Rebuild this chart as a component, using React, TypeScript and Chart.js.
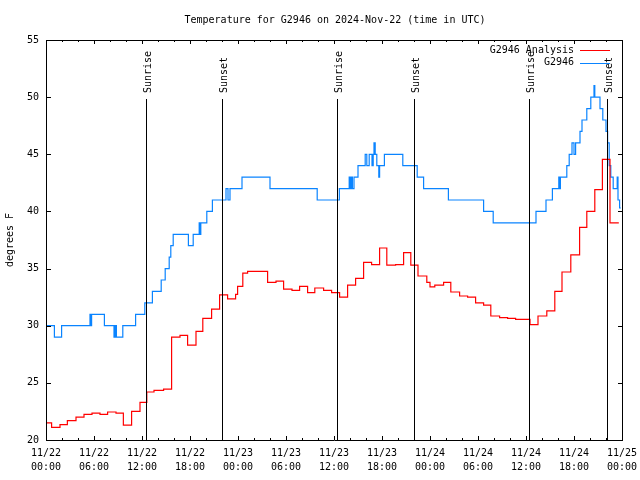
import { useEffect, useRef } from 'react';
import { Chart, registerables } from 'chart.js';

Chart.register(...registerables);

// ---- data (hours since 2024-11-22 00:00 UTC, degrees F) ----
const analysisHours = [
  0, 0.7, 1.75, 2.67, 3.75, 4.75, 5.75, 6.75, 7.7, 8.75, 9.67, 10.7, 11.75, 12.6, 13.5, 14.7,
  15.7, 16.75, 17.7, 18.75, 19.6, 20.7, 21.7, 22.7, 23.7, 23.95, 24.6, 25.2, 27.7, 28.75, 29.7,
  30.75, 31.7, 32.7, 33.6, 34.7, 35.7, 36.7, 37.7, 38.7, 39.7, 40.7, 41.7, 42.6, 43.7, 44.7,
  45.6, 46.5, 47.6, 48.0, 48.6, 49.7, 50.6, 51.7, 52.7, 53.7, 54.7, 55.6, 56.7, 57.7, 58.7,
  60.5, 61.5, 62.6, 63.6, 64.5, 65.6, 66.7, 67.6, 68.6, 69.55, 70.5, 71.6,
];
const analysisTemps = [
  21.5, 21.1, 21.35, 21.7, 22.0, 22.25, 22.35, 22.25, 22.45, 22.35, 21.3, 22.5, 23.3, 24.2, 24.35, 24.45,
  29.0, 29.15, 28.3, 29.5, 30.65, 31.45, 32.7, 32.35, 32.75, 33.45, 34.6, 34.75, 33.8, 33.9, 33.2,
  33.1, 33.45, 32.9, 33.3, 33.1, 32.9, 32.5, 33.55, 34.15, 35.55, 35.35, 36.8, 35.3, 35.35, 36.4,
  35.3, 34.35, 33.8, 33.4, 33.55, 33.8, 32.95, 32.6, 32.5, 32.0, 31.8, 30.85, 30.7, 30.65, 30.55,
  30.1, 30.85, 31.3, 33.0, 34.7, 36.2, 38.6, 40.0, 41.9, 44.55, 39.0, 39.0,
];

const obsHours = [
  0, 1.05, 1.95, 5.5, 5.6, 5.7, 7.3, 8.5, 8.65, 8.8, 9.6, 11.2, 12.35, 13.3, 14.4, 14.9, 15.4,
  15.6, 15.9, 17.8, 18.4, 19.15, 19.25, 19.35, 20.1, 20.8, 22.5, 22.75, 23.0, 24.5, 28.0, 33.9,
  36.67, 37.9, 38.05, 38.15, 38.3, 38.5, 39.0, 39.9, 40.1, 40.4, 40.75, 40.9, 41.0, 41.15, 41.35,
  41.6, 41.7, 42.3, 44.6, 46.4, 47.2, 50.3, 54.7, 55.9, 61.25, 62.5, 63.3, 64.1, 64.2, 64.3, 65.1,
  65.4, 65.75, 66.0, 66.2, 66.75, 67.0, 67.6, 68.1, 68.5, 68.6, 69.25, 69.6, 70.0, 70.2, 70.4,
  70.6, 70.9, 71.4, 71.5, 71.7, 71.85,
];
const obsTemps = [
  30, 29, 30, 31, 30, 31, 30, 29, 30, 29, 30, 31, 32, 33, 34, 35, 36,
  37, 38, 37, 38, 39, 38, 39, 40, 41, 42, 41, 42, 43, 42, 41,
  42, 43, 42, 43, 42, 43, 44, 45, 44, 45, 44, 45, 46, 45, 44,
  43, 44, 45, 44, 43, 42, 41, 40, 39, 40, 41, 42, 43, 42, 43, 44,
  45, 46, 45, 46, 47, 48, 49, 50, 51, 50, 49, 48, 47, 46, 44,
  43, 42, 43, 41, 40.3, 40.3,
];

const xTickDates = ['11/22', '11/22', '11/22', '11/22', '11/23', '11/23', '11/23', '11/23', '11/24', '11/24', '11/24', '11/24', '11/25'];
const xTickTimes = ['00:00', '06:00', '12:00', '18:00', '00:00', '06:00', '12:00', '18:00', '00:00', '06:00', '12:00', '18:00', '00:00'];
const yTickValues = [20, 25, 30, 35, 40, 45, 50, 55];

const sunEventLabels = ['Sunrise', 'Sunset', 'Sunrise', 'Sunset', 'Sunrise', 'Sunset'];
const sunEventHours = [12.53, 22.03, 36.43, 46.04, 60.42, 70.08];
const sunLineTopValue = 49.85;

const titleText = 'Temperature for G2946 on 2024-Nov-22 (time in UTC)';
const yAxisTitle = 'degrees F';
const seriesNames = ['G2946 Analysis', 'G2946'];
const seriesColors = ['#ff0000', '#0a84ff'];

const FONT = "'DejaVu Sans Mono', monospace";

const decorPlugin = {
  id: 'gnuplotDecor',
  afterDraw(chart: any) {
    const ctx = chart.ctx as CanvasRenderingContext2D;
    const { left, right, top, bottom } = chart.chartArea;
    const xs = chart.scales.x;
    const ys = chart.scales.y;
    ctx.save();
    ctx.strokeStyle = '#000';
    ctx.lineWidth = 1;

    // sunrise / sunset markers
    ctx.font = `10px ${FONT}`;
    ctx.fillStyle = '#000';
    sunEventHours.forEach((h, i) => {
      const px = Math.round(xs.getPixelForValue(h)) + 0.5;
      const pyTop = Math.round(ys.getPixelForValue(sunLineTopValue));
      ctx.beginPath();
      ctx.moveTo(px, pyTop);
      ctx.lineTo(px, bottom);
      ctx.stroke();
      ctx.save();
      ctx.translate(px + 1.5, pyTop - 6);
      ctx.rotate(-Math.PI / 2);
      ctx.textAlign = 'left';
      ctx.textBaseline = 'middle';
      ctx.fillText(sunEventLabels[i], 0, 0);
      ctx.restore();
    });

    // frame
    ctx.beginPath();
    ctx.rect(left + 0.5, top + 0.5, right - left, bottom - top);
    ctx.stroke();

    // y ticks (both sides)
    yTickValues.forEach((v) => {
      const py = Math.round(ys.getPixelForValue(v)) + 0.5;
      ctx.beginPath();
      ctx.moveTo(left, py);
      ctx.lineTo(left + 5, py);
      ctx.moveTo(right + 1, py);
      ctx.lineTo(right - 4, py);
      ctx.stroke();
    });

    // x ticks (major every 6h, minor every 2h, both sides)
    for (let h = 0; h <= 72; h += 2) {
      const px = Math.round(xs.getPixelForValue(h)) + 0.5;
      const len = h % 6 === 0 ? 4 : 2;
      ctx.beginPath();
      ctx.moveTo(px, bottom);
      ctx.lineTo(px, bottom - len);
      ctx.moveTo(px, top);
      ctx.lineTo(px, top + len);
      ctx.stroke();
    }

    // title
    ctx.font = `10px ${FONT}`;
    ctx.fillStyle = '#000';
    ctx.textAlign = 'center';
    ctx.textBaseline = 'middle';
    ctx.fillText(titleText, (left + right) / 2 + 1, 20);

    // y axis title
    ctx.save();
    ctx.translate(10, 240);
    ctx.rotate(-Math.PI / 2);
    ctx.textAlign = 'center';
    ctx.textBaseline = 'middle';
    ctx.fillText(yAxisTitle, 0, 0);
    ctx.restore();

    // legend
    seriesNames.forEach((name, i) => {
      const ly = 50 + i * 12.5;
      ctx.fillStyle = '#000';
      ctx.textAlign = 'right';
      ctx.textBaseline = 'middle';
      ctx.fillText(name, 574, ly);
      ctx.strokeStyle = seriesColors[i];
      ctx.beginPath();
      ctx.moveTo(580, Math.round(ly) + 0.5);
      ctx.lineTo(610, Math.round(ly) + 0.5);
      ctx.stroke();
    });

    ctx.restore();
  },
};

export default function App() {
  const canvasRef = useRef<HTMLCanvasElement | null>(null);

  useEffect(() => {
    if (!canvasRef.current) return;
    const chart = new Chart(canvasRef.current, {
      type: 'line',
      data: {
        datasets: [
          {
            label: seriesNames[0],
            data: analysisHours.map((h, i) => ({ x: h, y: analysisTemps[i] })),
            borderColor: seriesColors[0],
            borderWidth: 1.2,
            pointRadius: 0,
            stepped: 'before',
            fill: false,
          },
          {
            label: seriesNames[1],
            data: obsHours.map((h, i) => ({ x: h, y: obsTemps[i] })),
            borderColor: seriesColors[1],
            borderWidth: 1.2,
            pointRadius: 0,
            stepped: 'before',
            fill: false,
          },
        ],
      },
      options: {
        animation: false,
        responsive: false,
        devicePixelRatio: 1,
        layout: { padding: { left: 0, right: 18, top: 40, bottom: 0 } },
        plugins: {
          legend: { display: false },
          title: { display: false },
          tooltip: { enabled: false },
        },
        scales: {
          x: {
            type: 'linear',
            min: 0,
            max: 72,
            afterFit: (s: any) => {
              s.height = 40;
              s.paddingLeft = 0;
              s.paddingRight = 0;
            },
            afterBuildTicks: (s: any) => {
              s.ticks = xTickDates.map((_, i) => ({ value: i * 6 }));
            },
            grid: { display: false, drawTicks: false },
            border: { display: false },
            ticks: {
              maxRotation: 0,
              minRotation: 0,
              autoSkip: false,
              padding: 7,
              color: '#000',
              font: { family: FONT, size: 10, lineHeight: 1.35 },
              callback: (value: any) => {
                const i = Math.round(Number(value) / 6);
                return [xTickDates[i], xTickTimes[i]];
              },
            },
          },
          y: {
            type: 'linear',
            min: 20,
            max: 55,
            afterFit: (s: any) => {
              s.width = 46;
              s.paddingTop = 0;
              s.paddingBottom = 0;
            },
            afterBuildTicks: (s: any) => {
              s.ticks = yTickValues.map((v) => ({ value: v }));
            },
            grid: { display: false, drawTicks: false },
            border: { display: false },
            ticks: {
              padding: 7,
              color: '#000',
              font: { family: FONT, size: 10 },
              callback: (value: any) => String(value),
            },
          },
        },
      },
      plugins: [decorPlugin],
    });
    return () => chart.destroy();
  }, []);

  return (
    <div style={{ position: 'absolute', left: 0, top: 0, width: 640, height: 480, background: '#fff' }}>
      <canvas ref={canvasRef} width={640} height={480} />
    </div>
  );
}
